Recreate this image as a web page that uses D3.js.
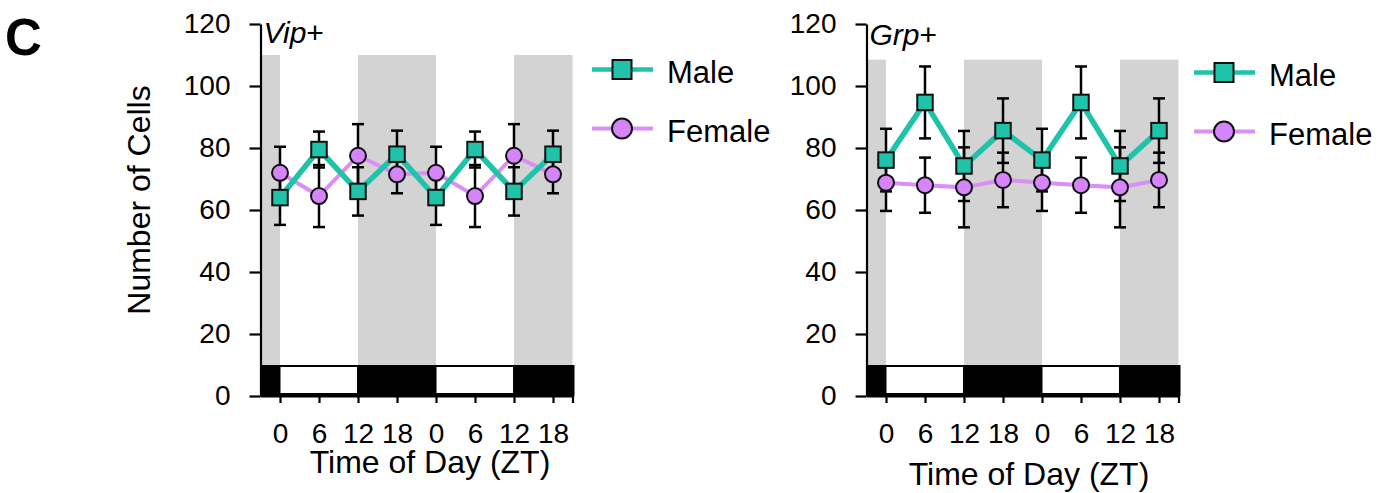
<!DOCTYPE html>
<html>
<head>
<meta charset="utf-8">
<script src="https://cdn.jsdelivr.net/npm/d3@7"></script>
<style>
  body { margin: 0; background: #fff; }
  svg text { font-family: "Liberation Sans", Arial, sans-serif; fill: #000; }
</style>
</head>
<body>
<div id="chart"></div>
<script>
// Data (values double plotted over two days)
var ztHours = [0, 6, 12, 18, 24, 30, 36, 42];
var ztLabels = ["0", "6", "12", "18", "0", "6", "12", "18"];
var yTicks = [0, 20, 40, 60, 80, 100, 120];
var seriesNames = ["Male", "Female"];

var vipMale = [64, 79.5, 66, 78, 64, 79.5, 66, 78];
var vipMaleSem = [8.8, 5.8, 7.8, 7.6, 8.8, 5.8, 7.8, 7.6];
var vipFemale = [72, 64.5, 77.5, 71.5, 72, 64.5, 77.5, 71.5];
var vipFemaleSem = [8.4, 10, 10.2, 6.1, 8.4, 10, 10.2, 6.1];

var grpMale = [76.1, 94.7, 74.2, 85.6, 76.1, 94.7, 74.2, 85.6];
var grpMaleSem = [10.1, 11.6, 11.3, 10.4, 10.1, 11.6, 11.3, 10.4];
var grpFemale = [68.8, 68, 67.3, 69.7, 68.8, 68, 67.3, 69.7];
var grpFemaleSem = [9.1, 8.9, 12.9, 8.8, 9.1, 8.9, 12.9, 8.8];

var darkPhases = [[-3, 0], [12, 24], [36, 45]];
var lightPhases = [[0, 12], [24, 36]];

var svgWidth = 1395;
var svgHeight = 493;

var teal = "#1fc3a9";
var purpleFill = "#d684fa";
var purpleLine = "#d98ff6";
var shade = "#d3d3d3";

var svg = d3.select("#chart")
            .append("svg")
            .attr("width", svgWidth)
            .attr("height", svgHeight);

// panel letter
svg.append("text")
   .attr("x", 5)
   .attr("y", 55)
   .attr("font-size", "51px")
   .attr("font-weight", "bold")
   .text("C");

// y axis title (only on left panel)
svg.append("text")
   .attr("transform", "translate(150,200) rotate(-90)")
   .attr("text-anchor", "middle")
   .attr("font-size", "32px")
   .text("Number of Cells");

function drawPanel(p) {
    var x = d3.scaleLinear().domain([-3, 45]).range([p.left, p.left + 312]);
    var y = d3.scaleLinear().domain([0, 120]).range([396, 24]);

    var g = svg.append("g");

    // dark phase shading
    g.selectAll(".shade").data(darkPhases).enter()
        .append("rect")
        .attr("x", d => x(d[0]))
        .attr("y", y(p.shadeTop))
        .attr("width", d => x(d[1]) - x(d[0]))
        .attr("height", y(0) - y(p.shadeTop))
        .attr("fill", shade);

    // light/dark bar
    g.append("rect")
        .attr("x", x(-3))
        .attr("y", y(10))
        .attr("width", x(45) - x(-3) + 2)
        .attr("height", y(0) - y(10))
        .attr("fill", "#000");
    g.selectAll(".light").data(lightPhases).enter()
        .append("rect")
        .attr("x", d => x(d[0]) + 0.5)
        .attr("y", y(10) + 2)
        .attr("width", d => x(d[1]) - x(d[0]) - 1.5)
        .attr("height", y(0) - y(10) - 5)
        .attr("fill", "#fff");

    // axes
    var leftAxis = d3.axisLeft(y).tickValues(yTicks).tickSize(11).tickPadding(19).tickSizeOuter(0);
    var bottomAxis = d3.axisBottom(x).tickValues(ztHours.concat([45])).tickSize(7).tickPadding(20)
                       .tickSizeOuter(0).tickFormat((d, i) => ztLabels[i] || "");

    var ya = g.append("g").attr("transform", `translate(${x(-3)},0)`).call(leftAxis);
    var xa = g.append("g").attr("transform", `translate(0,${y(0)})`).call(bottomAxis);
    [ya, xa].forEach(function(a) {
        a.selectAll("path, line").attr("stroke", "#000").attr("stroke-width", 2.2);
        a.selectAll("text").attr("font-size", "28px").attr("fill", "#000");
    });

    var series = [
        {mean: p.female, sem: p.femaleSem, color: purpleLine, width: 4},
        {mean: p.male, sem: p.maleSem, color: teal, width: 5.5}
    ];

    // error bars
    series.forEach(function(s) {
        var eb = g.append("g").attr("stroke", "#000").attr("stroke-width", 2.5);
        ztHours.forEach(function(h, i) {
            var cx = x(h), lo = y(s.mean[i] - s.sem[i]), hi = y(s.mean[i] + s.sem[i]);
            eb.append("line").attr("x1", cx).attr("x2", cx).attr("y1", lo).attr("y2", hi);
            eb.append("line").attr("x1", cx - 6).attr("x2", cx + 6).attr("y1", lo).attr("y2", lo);
            eb.append("line").attr("x1", cx - 6).attr("x2", cx + 6).attr("y1", hi).attr("y2", hi);
        });
    });

    // lines
    var line = d3.line().x((d, i) => x(ztHours[i])).y(d => y(d));
    series.forEach(function(s) {
        g.append("path")
            .attr("d", line(s.mean))
            .attr("fill", "none")
            .attr("stroke", s.color)
            .attr("stroke-width", s.width);
    });

    // markers
    g.selectAll(".circ").data(p.female).enter()
        .append("circle")
        .attr("cx", (d, i) => x(ztHours[i]))
        .attr("cy", d => y(d))
        .attr("r", 8)
        .attr("fill", purpleFill)
        .attr("stroke", "#111")
        .attr("stroke-width", 2);
    g.selectAll(".sq").data(p.male).enter()
        .append("rect")
        .attr("x", (d, i) => x(ztHours[i]) - 7.75)
        .attr("y", d => y(d) - 7.75)
        .attr("width", 15.5)
        .attr("height", 15.5)
        .attr("fill", teal)
        .attr("stroke", "#111")
        .attr("stroke-width", 2);

    // panel label
    var lab = g.append("text")
        .attr("x", x(-3) + 3)
        .attr("y", p.labelY)
        .attr("font-size", "30px");
    lab.append("tspan").attr("font-style", "italic").text(p.gene);
    lab.append("tspan").text("+");

    // x axis title
    g.append("text")
        .attr("x", p.titleX)
        .attr("y", p.titleY)
        .attr("text-anchor", "middle")
        .attr("font-size", "32px")
        .text("Time of Day (ZT)");

    // legend
    var lg = g.append("g").attr("transform", `translate(${p.legX},0)`);
    seriesNames.forEach(function(name, i) {
        var ly = p.legY[i];
        lg.append("line")
            .attr("x1", 0).attr("x2", 61).attr("y1", ly).attr("y2", ly)
            .attr("stroke", i === 0 ? teal : purpleLine)
            .attr("stroke-width", i === 0 ? 4.5 : 4);
        if (i === 0) {
            lg.append("rect").attr("x", 30 - 9.5).attr("y", ly - 9.5).attr("width", 19).attr("height", 19)
                .attr("fill", teal).attr("stroke", "#111").attr("stroke-width", 2);
        } else {
            lg.append("circle").attr("cx", 30).attr("cy", ly).attr("r", 10)
                .attr("fill", purpleFill).attr("stroke", "#111").attr("stroke-width", 2);
        }
        lg.append("text")
            .attr("x", 75)
            .attr("y", ly + 13)
            .attr("font-size", "31px")
            .text(name);
    });
}

drawPanel({
    left: 260.5, gene: "Vip", labelY: 43, shadeTop: 110,
    male: vipMale, maleSem: vipMaleSem, female: vipFemale, femaleSem: vipFemaleSem,
    titleX: 430, titleY: 473, legX: 592, legY: [69.5, 128.5]
});

drawPanel({
    left: 866.5, gene: "Grp", labelY: 45, shadeTop: 108.5,
    male: grpMale, maleSem: grpMaleSem, female: grpFemale, femaleSem: grpFemaleSem,
    titleX: 1029, titleY: 485, legX: 1194, legY: [72.5, 131.5]
});
</script>
</body>
</html>
